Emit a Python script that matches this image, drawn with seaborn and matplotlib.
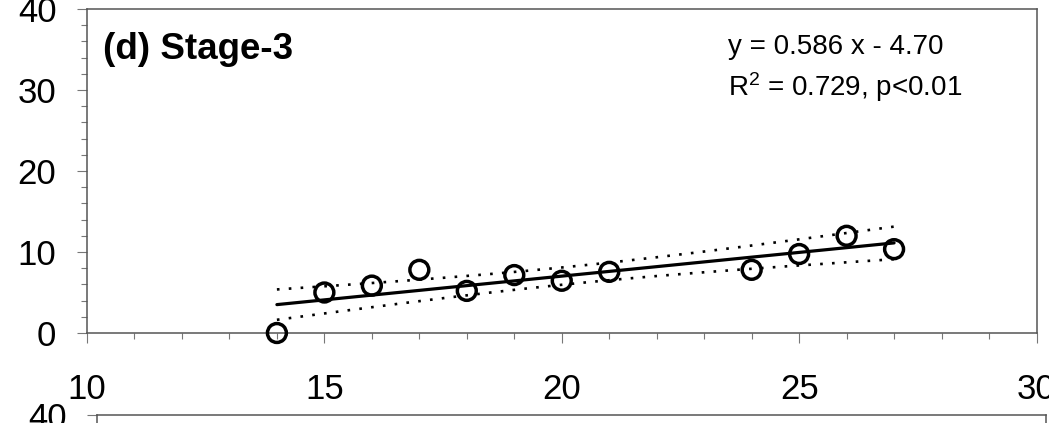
import numpy as np
import matplotlib
matplotlib.use("Agg")
import matplotlib.pyplot as plt
import seaborn as sns
from matplotlib.ticker import MultipleLocator

# ---- data ----
temperature = [14, 15, 16, 17, 18, 19, 20, 21, 24, 25, 26, 27]
value = [0.0, 5.0, 5.85, 7.8, 5.2, 7.15, 6.45, 7.55, 7.8, 9.75, 12.0, 10.35]
slope = 0.586
intercept = -4.70
t_crit = 2.228  # 95 %, df = 10
panel_label = "(d) Stage-3"
eq_text = "y = 0.586 x - 4.70"
r2_text = r"R$^{2}$ = 0.729, p<0.01"
x_ticks = [10, 15, 20, 25, 30]
y_ticks = [0, 10, 20, 30, 40]

sns.set_theme(style="ticks")
plt.rcParams['font.family'] = ['Liberation Sans', 'DejaVu Sans']
plt.rcParams['mathtext.fontset'] = 'custom'
plt.rcParams['mathtext.rm'] = 'Liberation Sans'
plt.rcParams['mathtext.default'] = 'regular'
plt.rcParams['text.color'] = 'black'
plt.rcParams['xtick.labelcolor'] = 'black'
plt.rcParams['ytick.labelcolor'] = 'black'

W, H = 1049, 423
fig = plt.figure(figsize=(W / 100, H / 100), dpi=100)

spine_col = "#555555"


def style_axes(ax):
    ax.set_xlim(10, 30)
    ax.set_ylim(0, 40)
    ax.set_xticks(x_ticks)
    ax.set_yticks(y_ticks)
    ax.xaxis.set_minor_locator(MultipleLocator(1))
    ax.yaxis.set_minor_locator(MultipleLocator(2))
    for s in ax.spines.values():
        s.set_color(spine_col)
        s.set_linewidth(1.1)
    ax.tick_params(which="both", direction="out", color="#777777", width=0.8,
                   labelsize=25, labelcolor="black")
    ax.tick_params(axis="x", which="major", length=7, pad=22)
    ax.tick_params(axis="y", which="major", length=7, pad=15)
    ax.tick_params(which="minor", length=4.3)
    ax.set_xlabel("")
    ax.set_ylabel("")
    ax.set_facecolor("white")


ax = fig.add_axes([87 / W, 1 - 333 / H, (1036.5 - 87) / W, 324 / H])

x = np.array(temperature)
y = np.array(value)
n = len(x)
xx = np.linspace(x.min(), x.max(), 200)
fit = slope * xx + intercept
resid = y - (slope * x + intercept)
s = np.sqrt(np.sum(resid ** 2) / (n - 2))
se = s * np.sqrt(1 / n + (xx - x.mean()) ** 2 / np.sum((x - x.mean()) ** 2))

sns.lineplot(x=xx, y=fit, ax=ax, color="black", lw=2.3)
sns.lineplot(x=xx, y=fit + t_crit * se, ax=ax, color="black", lw=1.9,
             linestyle=(0, (1, 3.5)))
sns.lineplot(x=xx, y=fit - t_crit * se, ax=ax, color="black", lw=1.9,
             linestyle=(0, (1, 3.5)))
sns.scatterplot(x=temperature, y=value, ax=ax, s=185, facecolor="none",
                edgecolor="black", linewidth=2.5, clip_on=False, zorder=5)
style_axes(ax)

ax.text((103 - 87) / 949.5, (333 - 59) / 324, panel_label, transform=ax.transAxes,
        fontsize=26.5, fontweight="bold", va="baseline", ha="left", color="black")
ax.text((728 - 87) / 949.5, (333 - 54) / 324, eq_text, transform=ax.transAxes,
        fontsize=20, va="baseline", ha="left", color="black")
ax.text((728 - 87) / 949.5, (333 - 96) / 324, r2_text, transform=ax.transAxes,
        fontsize=20, va="baseline", ha="left", color="black")

# next panel of the figure, cut off at the bottom edge
ax2 = fig.add_axes([97 / W, (H - 415 - 324) / H, (1046 - 97) / W, 324 / H])
style_axes(ax2)

fig.savefig("out.png", dpi=100, facecolor="white")
